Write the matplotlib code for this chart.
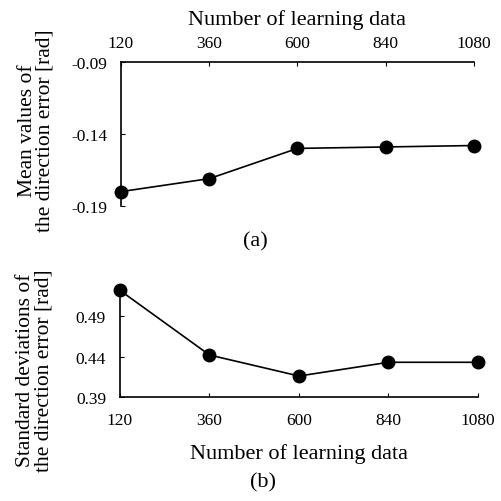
import matplotlib
matplotlib.use("Agg")
import matplotlib.pyplot as plt

# data
n_learning = [120, 360, 600, 840, 1080]
mean_error = [-0.180, -0.171, -0.150, -0.149, -0.148]
std_error = [0.522, 0.442, 0.416, 0.433, 0.433]
mean_ticks = [-0.19, -0.14, -0.09]
std_ticks = [0.39, 0.44, 0.49]

plt.rcParams["font.family"] = ["Liberation Serif", "DejaVu Serif"]
plt.rcParams["axes.unicode_minus"] = False

W = H = 502
fig = plt.figure(figsize=(5.02, 5.02), dpi=100)


def box(left, top, right, bottom):
    return [left / W, 1 - bottom / H, (right - left) / W, (bottom - top) / H]


line_kw = dict(color="black", lw=1.2, marker="o", markersize=9,
               markerfacecolor="black", markeredgecolor="black", clip_on=False)

# (a) mean values, x axis on top
ax1 = fig.add_axes(box(121, 63, 474, 207))
ax1.plot(n_learning, mean_error, **line_kw)
ax1.set_xlim(120, 1080)
ax1.set_ylim(-0.19, -0.09)
ax1.set_xticks(n_learning)
ax1.set_yticks(mean_ticks)
ax1.set_yticklabels([f"{v:.2f}" for v in mean_ticks])
ax1.xaxis.tick_top()
ax1.xaxis.set_label_position("top")
ax1.spines["bottom"].set_visible(False)
ax1.spines["right"].set_visible(False)
ax1.tick_params(axis="x", direction="in", length=3, pad=8, labelsize=12.5)
ax1.tick_params(axis="y", direction="in", length=3, pad=10, labelsize=12.5)
ax1.set_xlabel("Number of learning data", fontsize=16, labelpad=8)
ax1.set_ylabel("Mean values of\nthe direction error [rad]", fontsize=15.5,
               linespacing=0.95)
ax1.yaxis.set_label_coords(-0.187, 0.53)
ax1.text(0.38, -0.24, "(a)", transform=ax1.transAxes, ha="center", va="center",
         fontsize=16)

# (b) standard deviations
ax2 = fig.add_axes(box(120, 289, 478, 398))
ax2.plot(n_learning, std_error, **line_kw)
ax2.set_xlim(120, 1080)
ax2.set_ylim(0.39, 0.525)
ax2.set_xticks(n_learning)
ax2.set_yticks(std_ticks)
ax2.set_yticklabels([f"{v:.2f}" for v in std_ticks])
ax2.spines["top"].set_visible(False)
ax2.spines["right"].set_visible(False)
ax2.tick_params(axis="x", direction="in", length=3, pad=11, labelsize=12.5)
ax2.tick_params(axis="y", direction="in", length=3, pad=10, labelsize=12.5)
ax2.set_xlabel("Number of learning data", fontsize=16, labelpad=10.5)
ax2.set_ylabel("Standard deviations of\nthe direction error [rad]", fontsize=15.5,
               linespacing=0.95)
ax2.yaxis.set_label_coords(-0.187, 0.25)
ax2.text(0.40, -0.78, "(b)", transform=ax2.transAxes, ha="center", va="center",
         fontsize=16)

for ax in (ax1, ax2):
    for s in ax.spines.values():
        s.set_linewidth(1.2)

fig.savefig("out.png", dpi=100)
